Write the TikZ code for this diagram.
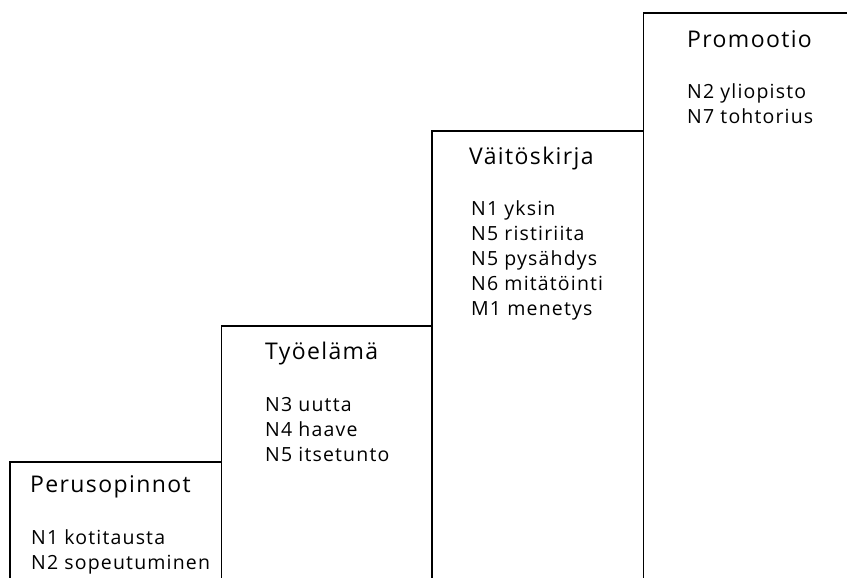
\documentclass[tikz,border=0pt]{standalone}
\usepackage{fontspec}
\setmainfont[LetterSpace=6]{Open Sans}
\tikzset{
  porras/.style={color=black, line width=1.9pt},
  otsikko/.style={anchor=base west, inner sep=0pt, font=\fontsize{23}{25}\selectfont},
  lista/.style={anchor=base west, inner sep=0pt, align=left, font=\fontsize{19.5}{25}\selectfont}
}
\begin{document}
\begin{tikzpicture}[x=1pt, y=1pt]
		\useasboundingbox (0,0) rectangle (847,578);
		
		% portaat
		\draw[porras] (10,0) -- (10,116) -- (221.5,116);
		\draw[porras] (221.5,0) -- (221.5,252) -- (432,252);
		\draw[porras] (432,0) -- (432,447) -- (643.5,447);
		\draw[porras] (643.5,0) -- (643.5,565.3) -- (847,565.3);
		
		% otsikot
		\node[otsikko] (perus) at (30,85) {Perusopinnot};
		\node[otsikko] (tyo) at (265,218) {Työelämä};
		\node[otsikko] (vaitos) at (469,413) {Väitöskirja};
		\node[otsikko] (promo) at (687,530) {Promootio};
		
		% teemat (base = viimeinen rivi)
		\node[lista] (perus-lista) at (31,8) {N1 kotitausta\\N2 sopeutuminen};
		\node[lista] (tyo-lista) at (265,116.5) {N3 uutta\\N4 haave\\N5 itsetunto};
		\node[lista] (vaitos-lista) at (471,262) {N1 yksin\\N5 ristiriita\\N5 pysähdys\\N6 mitätöinti\\M1 menetys};
		\node[lista] (promo-lista) at (687,454) {N2 yliopisto\\N7 tohtorius};
		
	\end{tikzpicture}
\end{document}
